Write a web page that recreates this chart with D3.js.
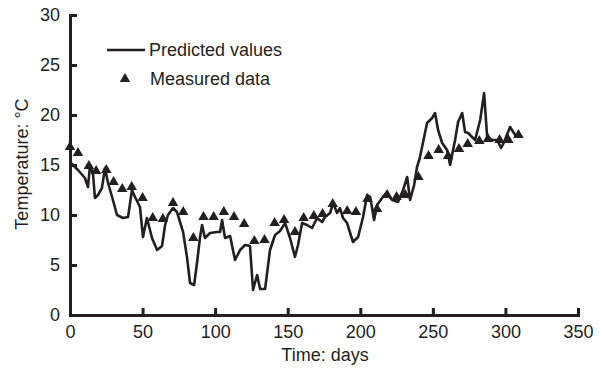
<!DOCTYPE html>
<html>
<head>
<meta charset="utf-8">
<script src="https://d3js.org/d3.v7.min.js"></script>
<style>
body { margin: 0; background: #fff; }
svg text { font-family: 'Liberation Sans', Arial, sans-serif; font-size: 18px; fill: #231f20; }
.axis path, .axis line { stroke: #231f20; stroke-width: 3; }
</style>
</head>
<body>
<svg width="602" height="372"></svg>

<script>
// predicted values (line): day, temperature
var predDays = [0, 5.5, 10.3, 12.4, 13.8, 15.9, 17.2, 19.3, 22, 24.1, 26.2, 29, 32.4, 36.5, 40, 42.7, 44.8, 48.2,
  50.3, 53, 56.5, 60, 63.4, 65.5, 67.5, 71, 73.7, 75.8, 77.9, 80.6, 82.7, 85.5, 87.5, 89.6, 91, 93, 96.5, 101.3,
  103.4, 104.8, 106.8, 110.3, 113.7, 117.2, 120.6, 124, 126.1, 128.9, 131, 134.4, 137.8, 141.3, 144.7, 148.2,
  151.6, 155, 157.1, 159.9, 163.3, 166.8, 170.2, 173.7, 175.7, 179.2, 181.3, 184, 186, 188.1, 190.9, 193, 195,
  198.5, 201.9, 204.7, 206.8, 209.5, 211.6, 215, 217.8, 221.9, 226, 229.5, 232.3, 234.3, 237.1, 239.1, 241,
  246, 249.5, 251.5, 253.6, 256.4, 259.8, 261.9, 265.3, 267.4, 270.2, 272.2, 274.3, 277, 279.1, 282.6, 285.3,
  287.4, 290.8, 294.3, 297, 299.1, 303.2, 306.7, 310.1];
var predTemp = [15.3, 14.5, 13.7, 12.8, 15.0, 14.0, 11.7, 12.0, 12.7, 14.7, 13.2, 11.8, 10.0, 9.7, 9.8, 12.5, 11.8, 10.8,
  7.8, 9.7, 7.7, 6.5, 6.9, 9.0, 10.0, 10.7, 10.3, 9.3, 8.3, 5.8, 3.2, 3.0, 5.2, 7.8, 9.0, 7.7, 8.2, 8.3,
  8.3, 9.5, 7.7, 7.9, 5.5, 6.5, 7.0, 6.9, 2.5, 4.0, 2.6, 2.6, 6.5, 8.0, 8.4, 9.2,
  7.7, 5.8, 7.0, 9.2, 9.0, 8.7, 9.7, 9.3, 9.8, 10.2, 11.2, 10.2, 10.7, 9.7, 9.2, 8.2, 7.3,
  7.8, 9.8, 12.0, 11.8, 9.5, 11.0, 11.7, 12.2, 11.5, 11.3, 12.5, 13.8, 11.5, 13.0, 14.8, 15.7,
  19.2, 19.7, 20.2, 18.5, 17.2, 16.5, 15.0, 17.5, 19.3, 20.2, 18.3, 18.2, 17.8, 17.5, 19.5, 22.2,
  17.8, 17.5, 17.5, 16.7, 17.3, 18.8, 18.0, 18.0];

// measured data (triangles)
var measDays = [0, 5.5, 13, 18, 25, 30, 36, 42.5, 50, 57, 64, 71, 78, 85, 92, 99, 106, 113, 120, 127, 134, 141,
  147.5, 155, 161, 168, 174, 181, 191, 197, 205, 211.5, 218.5, 225, 231, 240, 247, 254, 260.5, 268, 274, 282,
  288, 296, 302, 309];
var measTemp = [16.8, 16.2, 14.9, 14.4, 14.5, 13.3, 12.6, 12.8, 11.7, 9.7, 9.6, 11.2, 10.3, 7.7, 9.8, 9.8, 10.3, 9.8,
  9.1, 7.4, 7.5, 9.2, 9.5, 8.3, 9.7, 9.9, 10.1, 11.1, 10.4, 10.3, 11.6, 10.6, 12.0, 11.8, 12.0, 13.8, 15.9,
  16.5, 15.9, 16.6, 17.1, 17.4, 17.6, 17.5, 17.5, 18.0];

var xTicks = [0, 50, 100, 150, 200, 250, 300, 350];
var yTicks = [0, 5, 10, 15, 20, 25, 30];

var svg = d3.select("svg");
var x = d3.scaleLinear().domain([0, 350]).range([70, 578]);
var y = d3.scaleLinear().domain([0, 30]).range([315, 15]);

var pred = predDays.map(function (d, i) { return [d, predTemp[i]]; });
var meas = measDays.map(function (d, i) { return [d, measTemp[i]]; });

// axes, ticks pointing inward
svg.append("g").attr("class", "axis")
  .attr("transform", "translate(0,315)")
  .call(d3.axisBottom(x).tickValues(xTicks).tickSizeInner(-7).tickSizeOuter(0).tickPadding(10))
  .call(function (g) { g.selectAll("text").attr("font-size", null); });

svg.append("g").attr("class", "axis")
  .attr("transform", "translate(70,0)")
  .call(d3.axisLeft(y).tickValues(yTicks).tickSizeInner(-7).tickSizeOuter(0).tickPadding(10))
  .call(function (g) { g.selectAll("text").attr("font-size", null); });

svg.selectAll(".axis").attr("font-family", null);
svg.selectAll(".axis path.domain").attr("stroke-linecap", "square");

// predicted line
var line = d3.line().x(function (d) { return x(d[0]); }).y(function (d) { return y(d[1]); });
svg.append("path").datum(pred)
  .attr("d", line)
  .attr("fill", "none")
  .attr("stroke", "#231f20")
  .attr("stroke-width", 2.6)
  .attr("stroke-linejoin", "round");

// measured triangles
var tri = d3.symbol().type(d3.symbolTriangle).size(48);
svg.selectAll("path.meas").data(meas).enter().append("path")
  .attr("class", "meas")
  .attr("d", tri)
  .attr("fill", "#231f20")
  .attr("transform", function (d) { return "translate(" + x(d[0]) + "," + y(d[1]) + ")"; });

// legend
svg.append("line").attr("x1", 107).attr("x2", 145).attr("y1", 50).attr("y2", 50)
  .attr("stroke", "#231f20").attr("stroke-width", 2.6);
svg.append("text").attr("x", 149).attr("y", 56).text("Predicted values");
svg.append("path").attr("d", tri).attr("fill", "#231f20").attr("transform", "translate(125,79)");
svg.append("text").attr("x", 150).attr("y", 85).text("Measured data");

// axis titles
svg.append("text").attr("x", 325).attr("y", 361).attr("text-anchor", "middle").text("Time: days");
svg.append("text").attr("transform", "translate(28,164) rotate(-90)")
  .attr("text-anchor", "middle").text("Temperature: °C");
</script>
</body>
</html>
